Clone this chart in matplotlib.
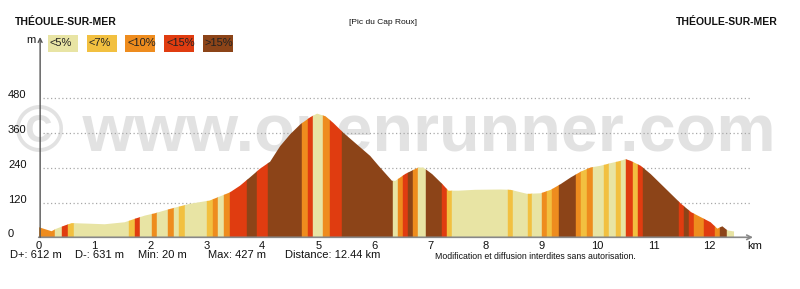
import matplotlib
matplotlib.use('Agg')
import matplotlib.pyplot as plt
from matplotlib.patches import Polygon, Rectangle

plt.rcParams['font.family'] = ['Liberation Sans', 'DejaVu Sans']

# --- profil (km, m) ---
dist = [0.00, 0.23, 0.32, 0.47, 0.59, 0.91, 1.18, 1.54, 1.72, 1.90, 2.08, 2.35, 2.71, 3.06,
        3.42, 3.60, 3.78, 3.96, 4.14, 4.32, 4.50, 4.68, 4.86, 4.98, 5.13, 5.27, 5.45, 5.69,
        5.93, 6.08, 6.32, 6.38, 6.56, 6.79, 6.88, 7.04, 7.22, 7.33, 7.51, 7.81, 8.26, 8.44,
        8.74, 8.98, 9.16, 9.34, 9.52, 9.70, 9.87, 10.05, 10.23, 10.41, 10.50, 10.59, 10.77,
        10.95, 11.13, 11.31, 11.49, 11.67, 11.84, 12.02, 12.14, 12.23, 12.32, 12.44]
elev = [35, 21, 30, 41, 49, 47, 45, 52, 64, 75, 83, 98, 116, 127,
        155, 178, 207, 237, 261, 315, 356, 390, 415, 427, 418, 395, 361, 321,
        281, 247, 195, 195, 219, 241, 241, 218, 184, 161, 161, 164, 165, 164,
        150, 152, 164, 184, 207, 227, 241, 247, 256, 264, 270, 264, 247,
        218, 184, 150, 116, 87, 70, 52, 30, 38, 24, 20]

# --- bandes de pente: limites (km) et classe (1: <5% ... 5: >15%) ---
bounds = [0.00, 0.30, 0.41, 0.52, 0.63, 1.61, 1.72, 1.81, 2.03, 2.11, 2.31, 2.42, 2.51, 2.62,
          3.01, 3.12, 3.21, 3.32, 3.42, 3.73, 3.91, 4.10, 4.71, 4.82, 4.91, 5.09, 5.22, 5.43,
          6.33, 6.42, 6.51, 6.61, 6.70, 6.79, 6.92, 7.22, 7.31, 7.40, 8.40, 8.49, 8.75, 8.82,
          9.01, 9.10, 9.19, 9.30, 9.62, 9.71, 9.80, 9.91, 10.11, 10.20, 10.32, 10.41, 10.50,
          10.63, 10.72, 10.81, 11.45, 11.54, 11.63, 11.72, 11.90, 12.10, 12.19, 12.31, 12.44]
slope_class = [3, 1, 4, 2, 1, 2, 4, 1, 3, 1, 3, 1, 2, 1, 2, 3, 1, 3, 4, 5, 4, 5, 3, 4, 1, 3, 4,
               5, 1, 3, 4, 5, 3, 1, 5, 4, 2, 1, 2, 1, 2, 1, 3, 2, 3, 5, 3, 2, 3, 1, 2, 1, 2, 1,
               4, 2, 4, 5, 4, 5, 4, 3, 4, 3, 5, 1]

legend_labels = ['<5%', '<7%', '<10%', '<15%', '>15%']
colors = ['#e8e4a4', '#f2c040', '#ee8c1e', '#e03c10', '#8c4418']

y_ticks = [0, 120, 240, 360, 480]
x_ticks = list(range(13))

W, H = 800, 289
fig = plt.figure(figsize=(W / 100, H / 100), dpi=100)

# calque de fond en pixels (textes, legende, filigrane)
bg = fig.add_axes([0, 0, 1, 1], zorder=0)
bg.set_xlim(0, W)
bg.set_ylim(H, 0)
bg.axis('off')

bg.text(15, 151, '\u00a9 www.openrunner.com', fontsize=48, fontweight='bold',
        color='#e2e2e2', ha='left', va='baseline')

bg.text(15, 22, 'THÉOULE-SUR-MER', fontsize=7.5, fontweight='bold', color='#111',
        ha='left', va='center')
bg.text(778, 22, 'THÉOULE-SUR-MER', fontsize=7.5, fontweight='bold', color='#111',
        ha='right', va='center')
bg.text(383, 23, '[Pic du Cap Roux]', fontsize=6, color='#111', ha='center', va='center')
bg.text(31, 40, 'm', fontsize=8, color='#111', ha='center', va='center')

for i, (lab, col) in enumerate(zip(legend_labels, colors)):
    x0 = 48 + i * 38.7
    bg.add_patch(Rectangle((x0, 35), 30, 16.5, facecolor=col, edgecolor='none'))
    bg.text(x0 + 2, 43.5, lab, fontsize=8, color='#222', ha='left', va='center')

stats = [(10, 'D+: 612 m'), (75, 'D-: 631 m'), (138, 'Min: 20 m'), (208, 'Max: 427 m'),
         (285, 'Distance: 12.44 km')]
for x, s in stats:
    bg.text(x, 255.5, s, fontsize=8, color='#111', ha='left', va='center')
bg.text(435, 256.5, 'Modification et diffusion interdites sans autorisation.',
        fontsize=6.3, color='#111', ha='left', va='center')

# --- axes principaux ---
x0_px, y0_px = 38.7, 237.3
px_km, px_m = 55.9, 0.2896
top_px, right_px = 37, 753
ax = fig.add_axes([x0_px / W, (H - y0_px) / H, (right_px - x0_px) / W, (y0_px - top_px) / H],
                  zorder=1)
ax.set_facecolor('none')
ax.set_xlim(0, (right_px - x0_px) / px_km)
ax.set_ylim(0, (y0_px - top_px) / px_m)
for s in ax.spines.values():
    s.set_visible(False)
ax.set_xticks([])
ax.set_yticks([])

ax.hlines(y_ticks[1:], 0.08, 12.72, colors='#a8a8a8', linestyles=(0, (1, 2)), lw=0.9, zorder=1)

verts = [(0, 0)] + list(zip(dist, elev)) + [(dist[-1], 0)]
poly = Polygon(verts, closed=True, facecolor='none', edgecolor='none')
ax.add_patch(poly)
for i, c in enumerate(slope_class):
    r = ax.axvspan(bounds[i], bounds[i + 1], color=colors[c - 1], lw=0.3, zorder=2)
    r.set_clip_path(poly)

for y in y_ticks:
    ax.text(-30.7 / px_km, y, str(y), fontsize=8, color='#111', ha='left', va='baseline',
            clip_on=False)
for x in x_ticks:
    ax.text(x, -3.5 / px_m, str(x), fontsize=8, color='#111', ha='center', va='top',
            clip_on=False)
ax.text((755 - x0_px) / px_km, -3.5 / px_m, 'km', fontsize=8, color='#111', ha='center',
        va='top', clip_on=False)

ax.annotate('', xy=(1, 0), xytext=(0, 0), xycoords='axes fraction',
            arrowprops=dict(arrowstyle='->', color='#888', lw=1.2, shrinkA=0, shrinkB=0,
                            mutation_scale=8), zorder=3)
ax.annotate('', xy=(0.002, 1), xytext=(0.002, 0), xycoords='axes fraction',
            arrowprops=dict(arrowstyle='->', color='#555', lw=1.0, shrinkA=0, shrinkB=0,
                            mutation_scale=7), zorder=3)

fig.savefig('out.png', dpi=100)
